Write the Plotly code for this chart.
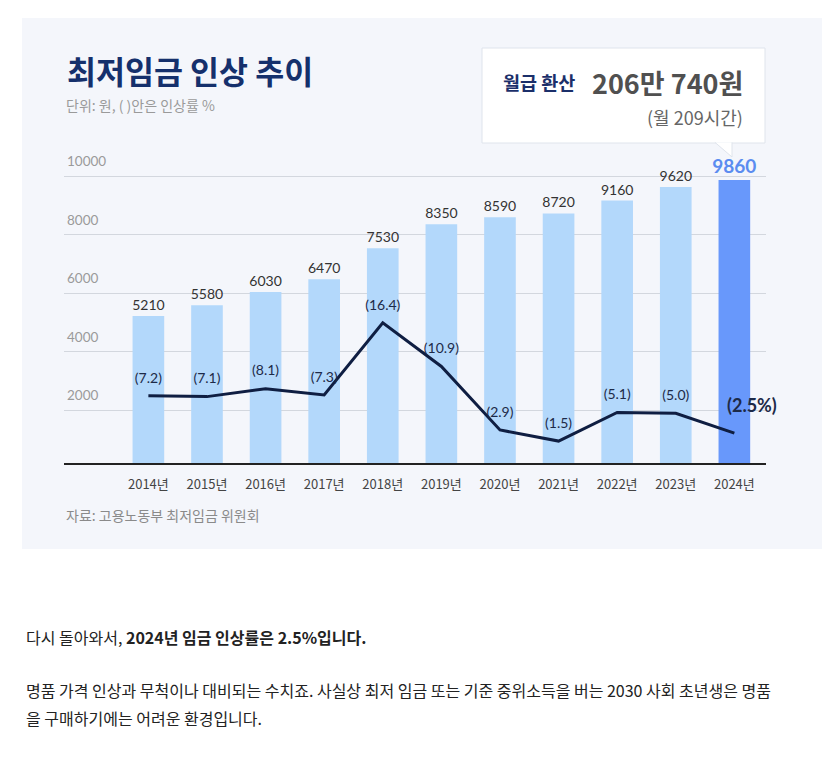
import plotly.graph_objects as go

# ---------------- data ----------------
years = ["2014년", "2015년", "2016년", "2017년", "2018년", "2019년",
         "2020년", "2021년", "2022년", "2023년", "2024년"]
wages = [5210, 5580, 6030, 6470, 7530, 8350, 8590, 8720, 9160, 9620, 9860]
rates = [7.2, 7.1, 8.1, 7.3, 16.4, 10.9, 2.9, 1.5, 5.1, 5.0, 2.5]
wage_ticks = [2000, 4000, 6000, 8000, 10000]
wage_tick_labels = ["2000", "4000", "6000", "8000", "10000"]

title_text = "최저임금 인상 추이"
subtitle_text = "단위: 원, ( )안은 인상률 %"
source_text = "자료: 고용노동부 최저임금 위원회"
callout_label = "월급 환산"
callout_value = "206만 740원"
callout_note = "(월 209시간)"
body_lines = [
    "다시 돌아와서, <b>2024년 임금 인상률은 2.5%입니다.</b>",
    "명품 가격 인상과 무척이나 대비되는 수치죠. 사실상 최저 임금 또는 기준 중위소득을 버는 2030 사회 초년생은 명품",
    "을 구매하기에는 어려운 환경입니다.",
]

# ---------------- styling / geometry ----------------
W, H = 839, 757
PL, PR, PT, PB = 64, 766, 150, 463


def px(x):
    return (x - PL) / (PR - PL)


def py(y):
    return (PB - y) / (PB - PT)


NAVY = "#15306c"
LIGHT_BAR = "#b3d8fb"
HIGHLIGHT_BAR = "#6898fb"
LINE = "#0f1e42"
KR = "'Noto Sans CJK KR', 'Noto Sans', sans-serif"
NUM = "Lato, 'Noto Sans CJK KR', sans-serif"

n = len(years)
bar_colors = [LIGHT_BAR] * (n - 1) + [HIGHLIGHT_BAR]
bar_text = [str(v) for v in wages[:-1]] + ["<b>%d</b>" % wages[-1]]
bar_text_colors = ["#333333"] * (n - 1) + ["#5b8cf0"]
bar_text_sizes = [14] * (n - 1) + [19]

rate_text = ["(%.1f)" % r for r in rates[:-1]] + [""]
last_rate_text = "<b>(%.1f%%)</b>" % rates[-1]

fig = go.Figure()

fig.add_trace(go.Bar(
    x=years, y=wages, width=0.54,
    marker=dict(color=bar_colors, line=dict(width=0)),
    text=bar_text, textposition="outside", constraintext="none",
    textfont=dict(family=NUM, color=bar_text_colors, size=bar_text_sizes),
    cliponaxis=False, hoverinfo="skip", showlegend=False,
))

fig.add_trace(go.Scatter(
    x=years, y=rates, yaxis="y2", mode="lines+markers+text",
    line=dict(color=LINE, width=3),
    marker=dict(size=14, color="rgba(0,0,0,0)", line=dict(width=0)),
    text=rate_text, textposition="top center",
    textfont=dict(family=NUM, color="#1d2a48", size=14),
    cliponaxis=False, hoverinfo="skip", showlegend=False,
))

shapes = [
    # panel background
    dict(type="rect", xref="paper", yref="paper", layer="below",
         x0=px(22), x1=px(822), y0=py(549), y1=py(18),
         fillcolor="#f4f6fb", line=dict(width=0)),
    # callout box
    dict(type="rect", xref="paper", yref="paper", layer="above",
         x0=px(482), x1=px(765), y0=py(143), y1=py(48),
         fillcolor="#ffffff", line=dict(color="#dfe4ec", width=1)),
    # callout pointer
    dict(type="path", xref="paper", yref="paper", layer="above",
         path="M %f,%f L %f,%f L %f,%f" % (px(715), py(142.4), px(732), py(157), px(732), py(142.4)),
         fillcolor="#ffffff", line=dict(color="#dfe4ec", width=1)),
]

annotations = [
    dict(text="<b>%s</b>" % title_text, x=px(65), y=py(70), xanchor="left", yanchor="middle",
         font=dict(family=KR, size=31.5, color=NAVY)),
    dict(text=subtitle_text, x=px(64), y=py(105), xanchor="left", yanchor="middle",
         font=dict(family=KR, size=14, color="#9a9a9a")),
    dict(text="<b>%s</b>" % callout_label, x=px(501), y=py(82), xanchor="left", yanchor="middle",
         font=dict(family=KR, size=18.5, color="#1b2f6a")),
    dict(text="<b>%s</b>" % callout_value, x=px(745), y=py(82), xanchor="right", yanchor="middle",
         font=dict(family=KR, size=27, color="#505050")),
    dict(text=callout_note, x=px(745), y=py(117), xanchor="right", yanchor="middle",
         font=dict(family=KR, size=18, color="#666666")),
    dict(text=source_text, x=px(64), y=py(515), xanchor="left", yanchor="middle",
         font=dict(family=KR, size=14, color="#8a8a8a")),
]
for i, (line_txt, yy) in enumerate(zip(body_lines, [637, 690, 718])):
    annotations.append(dict(text=line_txt, x=px(24), y=py(yy), xanchor="left", yanchor="middle",
                            font=dict(family=KR, size=16, color="#222222")))
for a in annotations:
    a.update(xref="paper", yref="paper", showarrow=False, align="left")

# highlighted last rate label, placed from the data point
annotations.append(dict(text=last_rate_text, x=years[-1], y=rates[-1], xref="x", yref="y2",
                        xanchor="center", yanchor="middle", xshift=18, yshift=28,
                        showarrow=False, font=dict(family=NUM, size=18, color="#1d2a48")))

fig.update_layout(
    width=W, height=H,
    margin=dict(l=PL, r=W - PR, t=PT, b=H - PB, pad=0),
    paper_bgcolor="#ffffff", plot_bgcolor="rgba(0,0,0,0)",
    xaxis=dict(type="category", range=[-1.44, n - 1 + 0.54],
               showgrid=False, zeroline=False,
               showline=True, linecolor="#222222", linewidth=1.5,
               ticks="", ticklabelstandoff=9,
               tickfont=dict(family=KR, size=13, color="#444444")),
    yaxis=dict(range=[188, 10889], tickvals=wage_ticks, ticktext=wage_tick_labels,
               ticklabelposition="inside top", ticklabelshift=-5,
               tickfont=dict(family=NUM, size=13.5, color="#9a9a9a"),
               showgrid=True, gridcolor="#d3d7de", gridwidth=1,
               zeroline=False, showline=False, ticks=""),
    yaxis2=dict(range=[-1.26, 38.16], overlaying="y", visible=False),
    shapes=shapes, annotations=annotations,
    font=dict(family=KR),
)

fig.write_html("out.html", config={"displayModeBar": False},
               post_script="document.body.style.margin='0';")
